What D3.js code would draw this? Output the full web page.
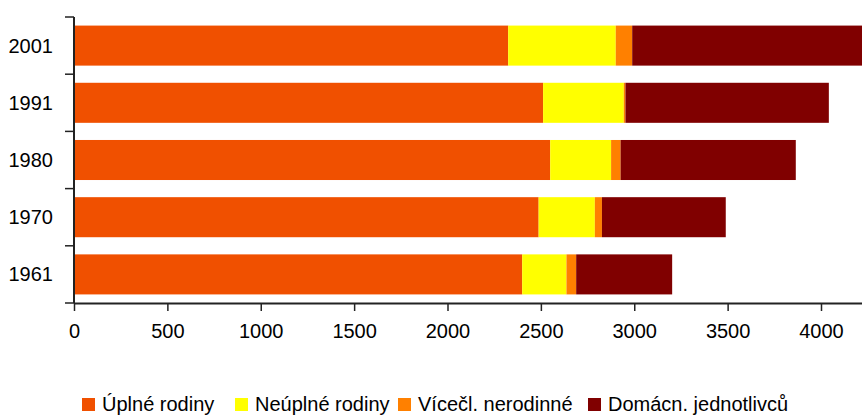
<!DOCTYPE html>
<html>
<head>
<meta charset="utf-8">
<script src="https://cdn.jsdelivr.net/npm/d3@7"></script>
<style>
  body { margin: 0; background: #fff; }
  text { font-family: "Liberation Sans", Arial, sans-serif; font-size: 20px; fill: #000; }
</style>
</head>
<body>
<div id="chart"></div>
<script>
// Data
var years = ["2001", "1991", "1980", "1970", "1961"];
var seriesNames = ["Úplné rodiny", "Neúplné rodiny", "Vícečl. nerodinné", "Domácn. jednotlivců"];
var seriesColors = ["#F05000", "#FFFF00", "#FF8000", "#800000"];
var uplne = [2325, 2512, 2550, 2488, 2400];
var neuplne = [576, 432, 326, 301, 237];
var vicecl = [88, 9, 51, 38, 52];
var jednotlivci = [1380, 1089, 938, 663, 514];
var xTicks = [0, 500, 1000, 1500, 2000, 2500, 3000, 3500, 4000];

var svgWidth = 862, svgHeight = 417;
var margin = { t: 17, r: 0, b: 114, l: 74 };
var chartWidth = svgWidth - margin.l - margin.r;
var chartHeight = svgHeight - margin.t - margin.b;

var svg = d3.select("#chart").append("svg")
    .attr("width", svgWidth)
    .attr("height", svgHeight);

var chart = svg.append("g")
    .attr("transform", `translate(${margin.l} ${margin.t})`);

// 4000 sits at ~747px from the origin, the chart is clipped on the right
var xScale = d3.scaleLinear()
    .domain([0, 4000 * chartWidth / 747])
    .range([0, chartWidth]);

var yScale = d3.scaleBand()
    .domain(years)
    .range([0, chartHeight])
    .paddingInner(0.3)
    .paddingOuter(0.15);

// stack the series
var rows = years.map((y, i) => ({
    year: y, s0: uplne[i], s1: neuplne[i], s2: vicecl[i], s3: jednotlivci[i]
}));
var stack = d3.stack().keys(["s0", "s1", "s2", "s3"]);
var layers = stack(rows);

chart.append("g")
    .selectAll("g")
    .data(layers)
    .enter()
    .append("g")
    .attr("fill", (d, i) => seriesColors[i])
    .selectAll("rect")
    .data(d => d)
    .enter()
    .append("rect")
    .attr("x", d => xScale(d[0]))
    .attr("width", d => xScale(d[1]) - xScale(d[0]))
    .attr("y", d => yScale(d.data.year))
    .attr("height", yScale.bandwidth());

// Axes
var xAxis = d3.axisBottom(xScale)
    .tickValues(xTicks)
    .tickFormat(d3.format("d"))
    .tickSize(8)
    .tickSizeOuter(0)
    .tickPadding(13);
var gx = chart.append("g")
    .attr("transform", `translate(0, ${chartHeight})`)
    .call(xAxis);
gx.select(".domain").attr("stroke", "#222").attr("stroke-width", 2);
gx.selectAll(".tick line").attr("stroke", "#222").attr("stroke-width", 1.5);
gx.selectAll("text").attr("font-size", 20);

// y axis ticks between categories
var yLine = chart.append("g");
yLine.append("line")
    .attr("x1", 0).attr("x2", 0)
    .attr("y1", 0).attr("y2", chartHeight)
    .attr("stroke", "#222").attr("stroke-width", 2);
yLine.selectAll("line.tk")
    .data(d3.range(years.length + 1))
    .enter()
    .append("line")
    .attr("class", "tk")
    .attr("x1", -9).attr("x2", 0)
    .attr("y1", i => i * chartHeight / years.length)
    .attr("y2", i => i * chartHeight / years.length)
    .attr("stroke", "#222").attr("stroke-width", 1.5);
yLine.selectAll("text")
    .data(years)
    .enter()
    .append("text")
    .attr("x", -21)
    .attr("y", d => yScale(d) + yScale.bandwidth() / 2)
    .attr("dy", "0.35em")
    .attr("text-anchor", "end")
    .text(d => d);

// Legend
var legendX = [82, 235, 398, 588];
var legend = svg.append("g").attr("transform", "translate(0, 398)");
var items = legend.selectAll("g")
    .data(seriesNames)
    .enter()
    .append("g")
    .attr("transform", (d, i) => `translate(${legendX[i]} 0)`);
items.append("rect")
    .attr("width", 13).attr("height", 13)
    .attr("fill", (d, i) => seriesColors[i]);
items.append("text")
    .attr("x", 20)
    .attr("y", 13)
    .attr("font-size", 19)
    .text(d => d);
</script>
</body>
</html>
